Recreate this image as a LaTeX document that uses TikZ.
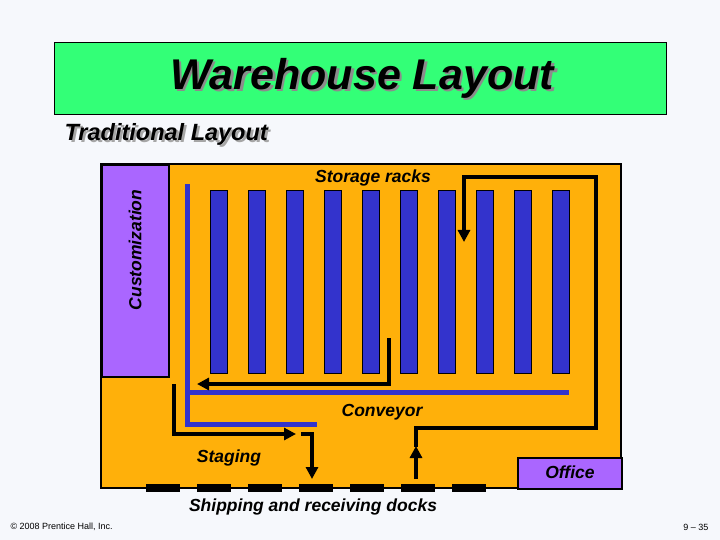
\documentclass[tikz,border=0pt]{standalone}
\usepackage{fontspec}
\setmainfont{Liberation Sans}
\usetikzlibrary{arrows.meta}
\definecolor{bg}{HTML}{F6F8FC}
\definecolor{ttl}{HTML}{33FF77}
\definecolor{floor}{HTML}{FFB00A}
\definecolor{purp}{HTML}{AA66FF}
\definecolor{rack}{HTML}{3333CC}
\begin{document}
\begin{tikzpicture}[x=1pt,y=-1pt,
  lbl/.style={font=\bfseries\itshape\fontsize{17.5}{19}\selectfont, inner sep=0pt},
  path/.style={line width=4.5pt, -{Triangle[length=12pt,width=12pt]}},
  conv/.style={rack, line width=5pt},
  rackbox/.style={fill=rack, draw=black, line width=0.4pt},
  dock/.style={fill=black}]
\useasboundingbox (0,0) rectangle (720,540);
\fill[bg] (0,0) rectangle (720,540);
% title
\node[draw=black, fill=ttl, minimum width=612pt, minimum height=72pt, anchor=north west, inner sep=0pt] (title) at (54,42) {};
\node[font=\bfseries\itshape\fontsize{43}{46}\selectfont, text=black!45] (ts) at (364.5,80.5) {Warehouse Layout};
\node[font=\bfseries\itshape\fontsize{43}{46}\selectfont] (tt) at (362,78) {Warehouse Layout};
\node[font=\bfseries\itshape\fontsize{23.5}{25}\selectfont, text=black!35, anchor=west] (ss) at (63.5,136.5) {Traditional Layout};
\node[font=\bfseries\itshape\fontsize{23.5}{25}\selectfont, anchor=west] (sub) at (61,134) {Traditional Layout};
% floor
\draw[fill=floor, line width=2pt] (101,164) rectangle (621,488);
\node[draw=black, line width=2pt, fill=purp, anchor=north west, minimum width=67pt, minimum height=212pt, inner sep=0pt] (cust) at (101,164) {};
\node[lbl, rotate=90] at (135,250) {Customization};
\node[draw=black, line width=2pt, fill=purp, anchor=north west, minimum width=104pt, minimum height=31pt, inner sep=0pt] (office) at (517,457) {};
\node[lbl] at (570,472) {Office};
% racks
\foreach \i in {0,...,9} {
  \node[rackbox, anchor=north west, minimum width=17pt, minimum height=183pt, inner sep=0pt] (r\i) at ({210+38*\i},190) {};
}
\node[lbl] (sr) at (373,178) {Storage racks};
% conveyor
\draw[conv] (187,184) -- (187,424) -- (317,424);
\draw[conv] (187,392) -- (569,392);
\node[lbl] (cv) at (382,412) {Conveyor};
\node[lbl] (stg) at (229,458) {Staging};
% arrows
\coordinate (a1) at (389,338); \coordinate (a1e) at (197,384);
\draw[path] (a1) -- (389,384) -- (a1e);
\coordinate (s1) at (174,384); \coordinate (s1e) at (296,434);
\draw[path] (s1) -- (174,434) -- (s1e);
\coordinate (s2) at (301,434); \coordinate (s2e) at (312,479);
\draw[path] (s2) -- (312,434) -- (s2e);
\coordinate (u1) at (416,479); \coordinate (u1e) at (416,446);
\draw[path] (u1) -- (u1e);
\coordinate (u2) at (416,447); \coordinate (u2e) at (464,242);
\draw[path] (u2) -- (416,428) -- (596,428) -- (596,177) -- (464,177) -- (u2e);
% docks
\foreach \i in {0,...,6} {
  \node[dock, anchor=north west, minimum width=34pt, minimum height=8pt, inner sep=0pt] (d\i) at ({146+51*\i},484) {};
}
\node[lbl] (ship) at (313,507) {Shipping and receiving docks};
\node[font=\fontsize{9}{10}\selectfont, anchor=west] (cp) at (7,527) {© 2008 Prentice Hall, Inc.};
\node[font=\fontsize{9}{10}\selectfont, anchor=east] (pg) at (712,527) {9 – 35};
\end{tikzpicture}
\end{document}
